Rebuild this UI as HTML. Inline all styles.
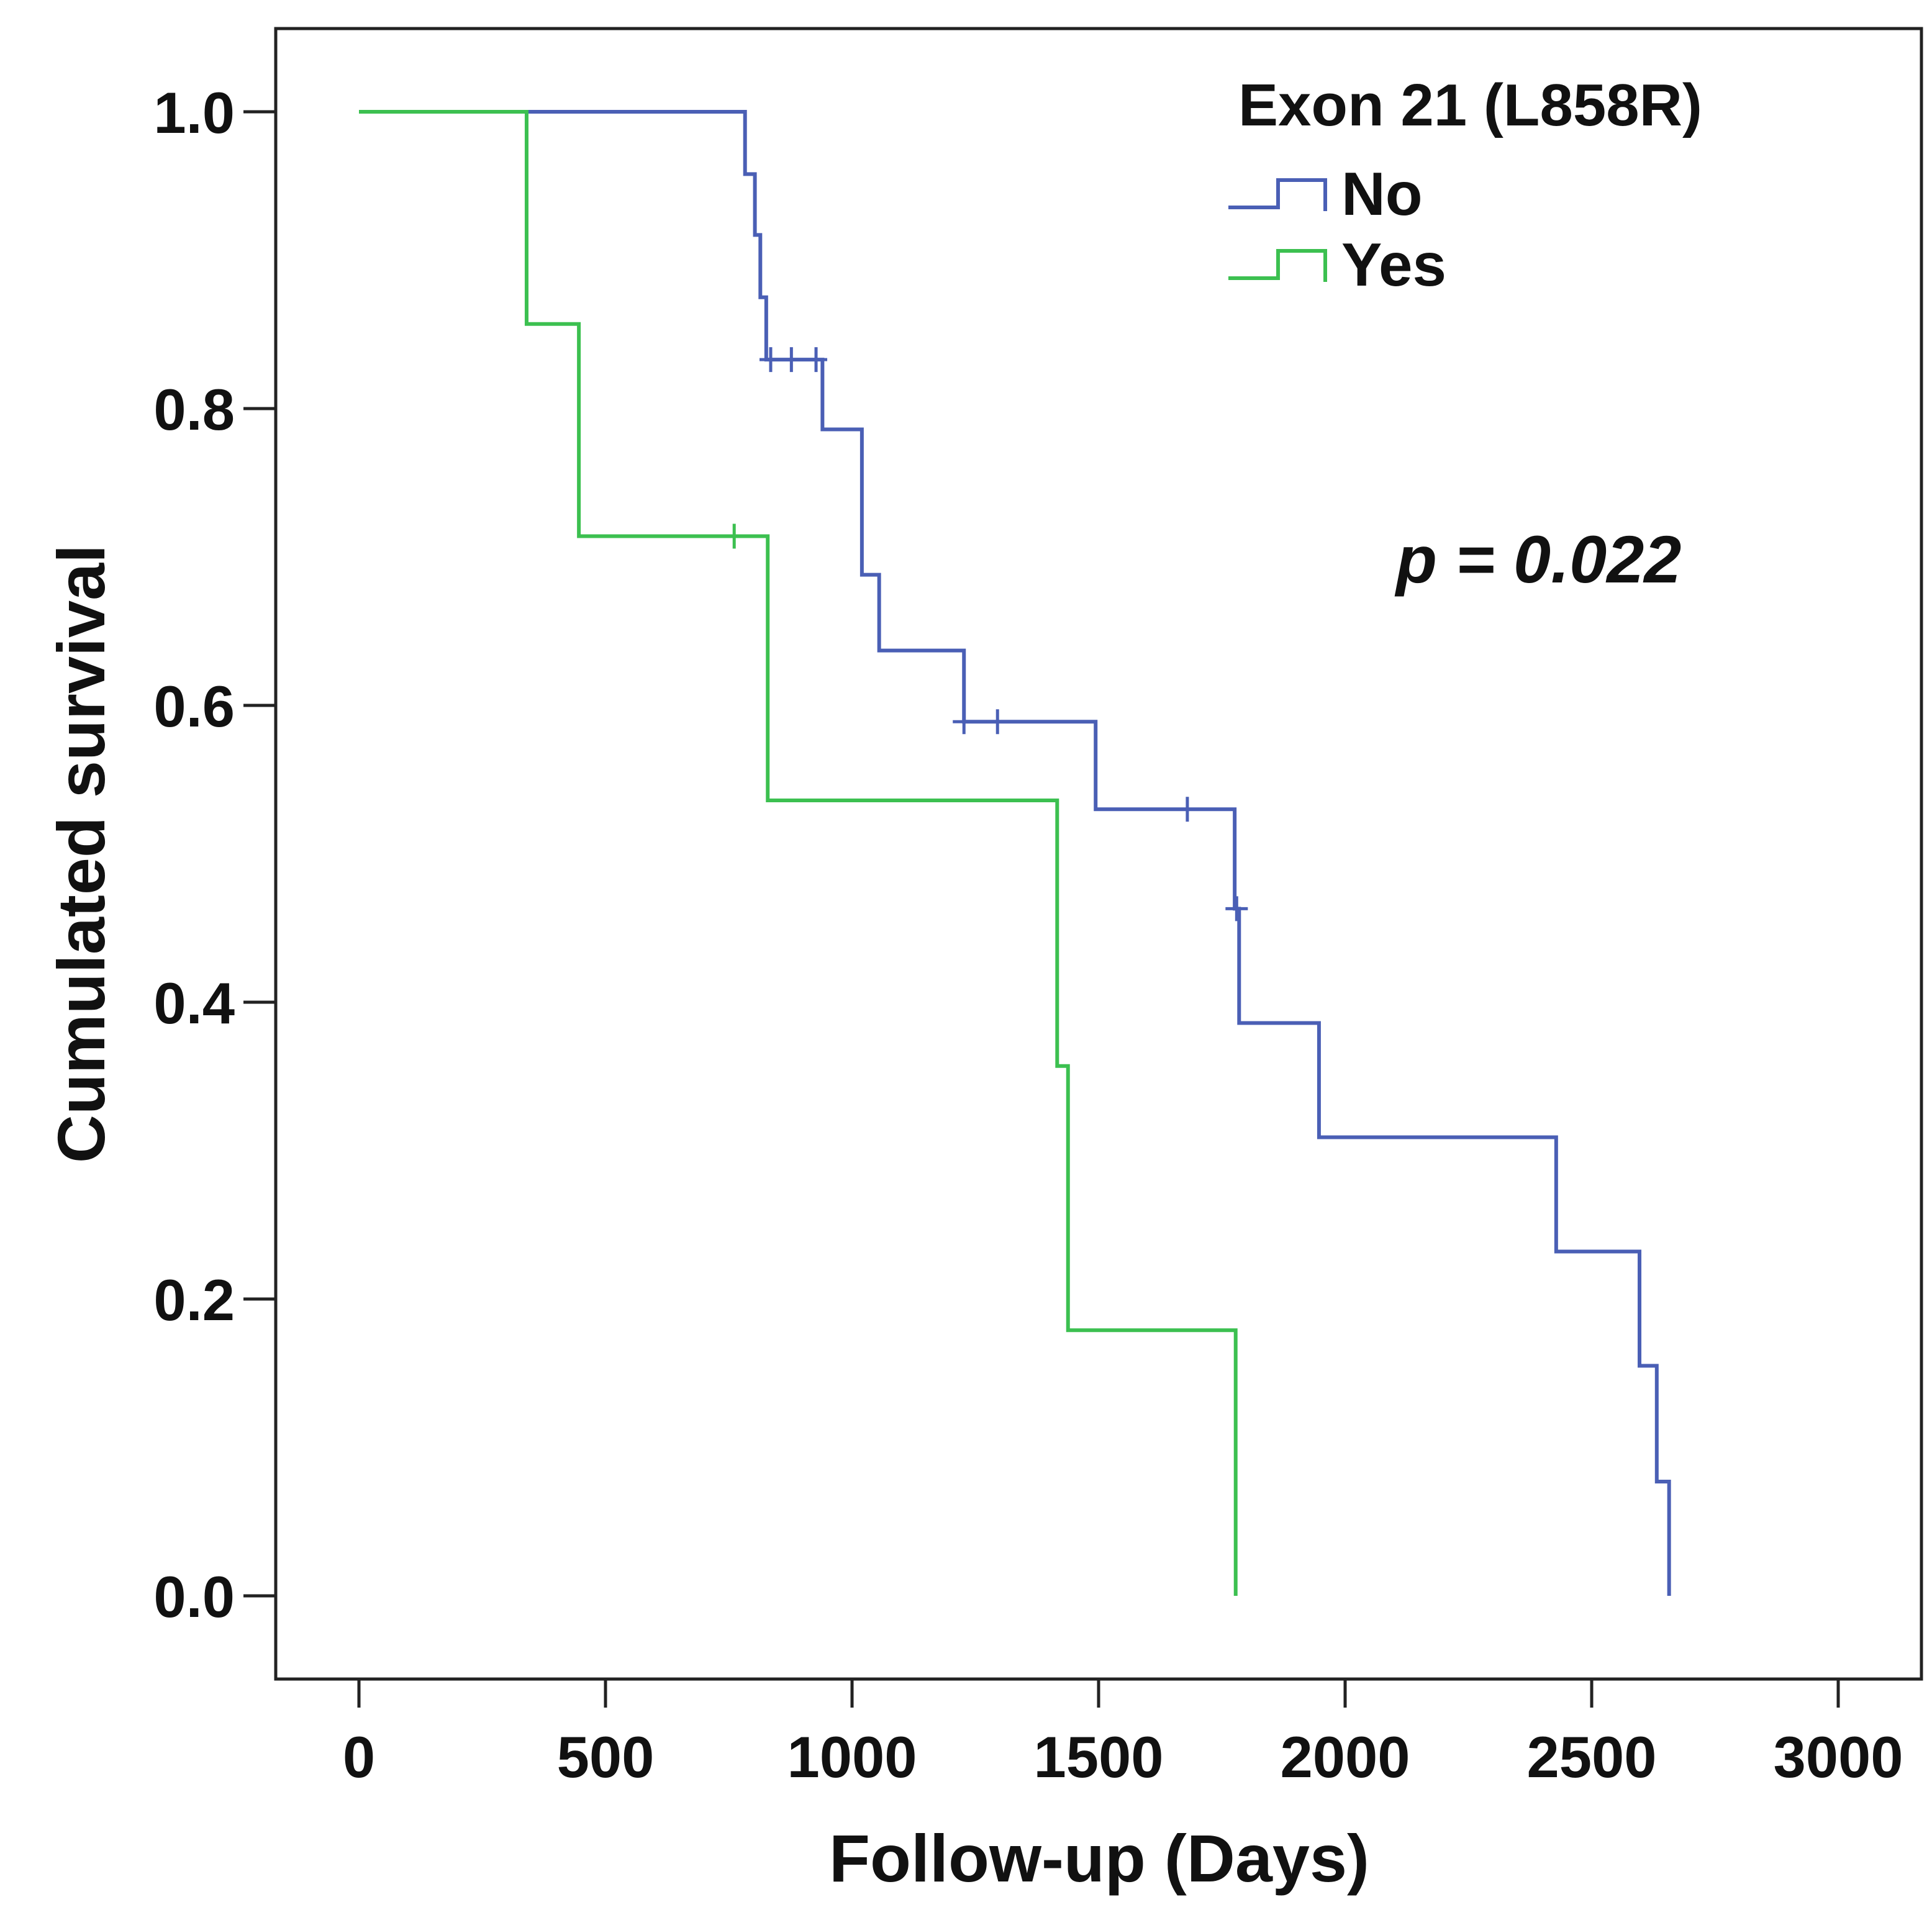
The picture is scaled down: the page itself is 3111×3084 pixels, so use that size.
<!DOCTYPE html>
<html><head><meta charset="utf-8"><style>
html,body{margin:0;padding:0;background:#fff}
svg{display:block;font-family:"Liberation Sans",Arial,sans-serif}
</style></head><body>
<svg id="chart" width="3111" height="3084" viewBox="0 0 3111 3084" xmlns="http://www.w3.org/2000/svg">
<rect x="0" y="0" width="3111" height="3084" fill="#fff"/>
<rect x="444" y="46" width="2650" height="2658" fill="none" stroke="#222" stroke-width="5"/>
<g id="axes"></g>
<g id="series"></g>
<text x="1770" y="3030" font-size="108" font-weight="bold" text-anchor="middle" fill="#111">Follow-up (Days)</text>
<text transform="translate(168,1375) rotate(-90)" font-size="108" font-weight="bold" text-anchor="middle" fill="#111">Cumulated survival</text>
<g>
<text x="1994" y="202" font-size="96" font-weight="bold" fill="#111">Exon 21 (L858R)</text>
<path d="M1978,334 H2058 V290 H2134 V340" fill="none" stroke="#4a5fb5" stroke-width="6"/>
<text x="2160" y="346" font-size="98" font-weight="bold" fill="#111">No</text>
<path d="M1978,448 H2058 V404 H2134 V454" fill="none" stroke="#3cc050" stroke-width="6"/>
<text x="2160" y="460" font-size="98" font-weight="bold" fill="#111">Yes</text>
</g>
<text x="2248" y="938" font-size="108" font-weight="bold" font-style="italic" fill="#111">p = 0.022</text>
</svg>
<script>
const xTicks = [0, 500, 1000, 1500, 2000, 2500, 3000];
const yTicks = [0, 0.2, 0.4, 0.6, 0.8, 1.0];
const noTimes = [0, 783, 803, 814, 826, 940, 1020, 1055, 1227, 1494, 1776, 1785, 1947, 2428, 2597, 2632, 2657];
const noSurv = [1.0, 0.958, 0.917, 0.875, 0.833, 0.786, 0.688, 0.637, 0.589, 0.530, 0.463, 0.386, 0.309, 0.232, 0.155, 0.077, 0.0];
const noCensorT = [835, 877, 927, 1227, 1295, 1680, 1780];
const noCensorS = [0.833, 0.833, 0.833, 0.589, 0.589, 0.530, 0.463];
const yesTimes = [0, 340, 446, 829, 1416, 1438, 1778];
const yesSurv = [1.0, 0.857, 0.714, 0.536, 0.357, 0.179, 0.0];
const yesCensorT = [761];
const yesCensorS = [0.714];

const NS = "http://www.w3.org/2000/svg";
const xs = d => 578 + d * (2382 / 3000);
const ys = s => 2570 - s * 2390;
const axes = document.getElementById('axes');
const series = document.getElementById('series');
function mk(tag, attrs, parent){const e=document.createElementNS(NS,tag);for(const k in attrs)e.setAttribute(k,attrs[k]);parent.appendChild(e);return e;}

xTicks.forEach(t=>{
  const l=mk('line',{x1:xs(t),x2:xs(t),y1:2704,y2:2750,stroke:'#222','stroke-width':5},axes);
  
  
  const tx=mk('text',{x:xs(t),y:2862,'font-size':94,'font-weight':'bold','text-anchor':'middle',fill:'#111'},axes);
  tx.textContent=t;
  
  
});
yTicks.forEach(t=>{
  const l=mk('line',{x1:392,x2:444,y1:ys(t),y2:ys(t),stroke:'#222','stroke-width':5},axes);
  
  
  const tx=mk('text',{x:378,y:ys(t)+34,'font-size':94,'font-weight':'bold','text-anchor':'end',fill:'#111'},axes);
  tx.textContent=t.toFixed(1);
  
  
});
function stepPath(T,S){
  let d='M'+xs(T[0])+','+ys(S[0]);
  for(let i=1;i<T.length;i++){d+=' H'+xs(T[i])+' V'+ys(S[i]);}
  return d;
}
const blue='#4a5fb5', green='#3cc050';
const pn=mk('path',{d:stepPath(noTimes,noSurv),fill:'none',stroke:blue,'stroke-width':6},series);


const py=mk('path',{d:stepPath(yesTimes,yesSurv),fill:'none',stroke:green,'stroke-width':6},series);


function censors(T,S,col,name){
  T.forEach((t,i)=>{
    const g=mk('path',{d:`M${xs(t)-18},${ys(S[i])} H${xs(t)+18} M${xs(t)},${ys(S[i])-20} V${ys(S[i])+20}`,stroke:col,'stroke-width':5,fill:'none'},series);
    
    
  });
}
censors(noCensorT,noCensorS,blue,'censor-mark-no');
censors(yesCensorT,yesCensorS,green,'censor-mark-yes');
</script>
</body></html>
